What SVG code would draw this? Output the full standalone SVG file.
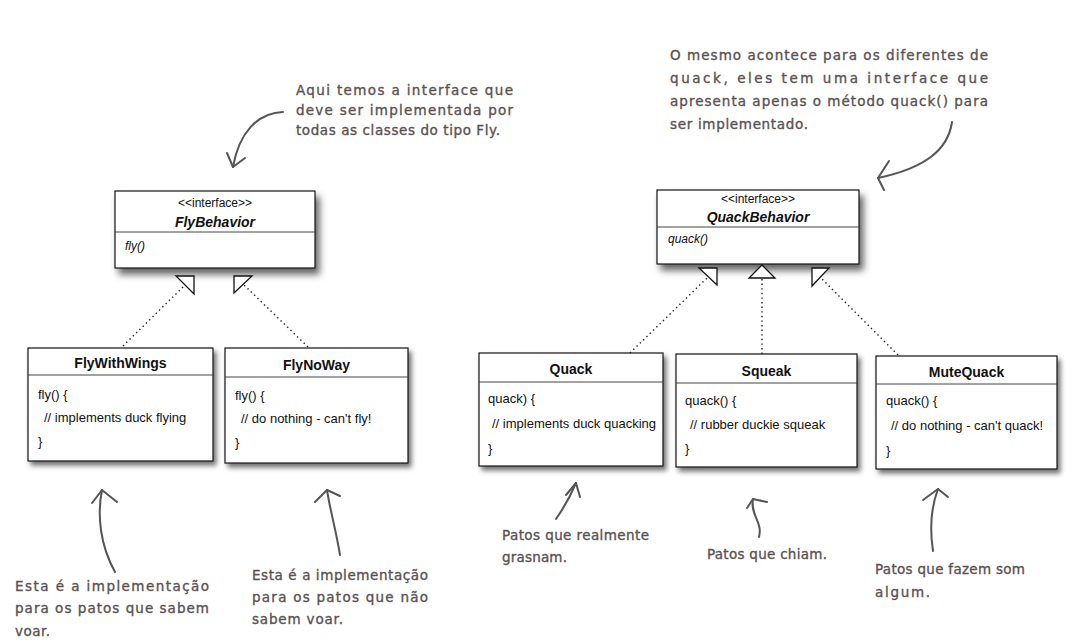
<svg xmlns="http://www.w3.org/2000/svg" width="1066" height="644" viewBox="0 0 1066 644">
  <defs>
    <filter id="shadow" x="-10%" y="-10%" width="130%" height="140%">
      <feDropShadow dx="3" dy="4" stdDeviation="2.5" flood-color="#000" flood-opacity="0.55"/>
    </filter>
    <filter id="shadowBig" x="-10%" y="-10%" width="130%" height="150%">
      <feDropShadow dx="4" dy="6" stdDeviation="3.5" flood-color="#000" flood-opacity="0.6"/>
    </filter>
  </defs>
  <style>
    .box { fill: #fff; stroke: #111; stroke-width: 1.2; }
    .sep { stroke: #444; stroke-width: 1; }
    .uml { font-family: "Liberation Sans", Arial, sans-serif; fill: #111; }
    .title { font-size: 14px; font-weight: bold; text-anchor: middle; }
    .body { font-size: 13px; }
    .stereo { font-size: 12px; text-anchor: middle; }
    .iname { font-size: 14px; font-weight: bold; font-style: italic; text-anchor: middle; }
    .op { font-size: 12px; font-style: italic; }
    .dot { fill: none; stroke: #222; stroke-width: 1.4; stroke-dasharray: 1.4 3.2; }
    .tri { fill: #fff; stroke: #111; stroke-width: 1.3; stroke-linejoin: miter; }
    .note { font-family: "DejaVu Sans", "Liberation Sans", sans-serif; font-size: 13.5px; fill: #5a5252; stroke: #5a5252; stroke-width: 0.35; }
    .hand { fill: none; stroke: #555; stroke-width: 2; stroke-linecap: round; stroke-linejoin: round; }
  </style>
  <rect width="1066" height="644" fill="#fff"/>

  <g id="FlyBehavior">
    <rect class="box" x="115" y="191" width="200" height="77" filter="url(#shadowBig)"/>
    <line class="sep" x1="115" y1="232" x2="315" y2="232"/>
    <text class="uml stereo" x="215" y="207">&lt;&lt;interface&gt;&gt;</text>
    <text class="uml iname" x="215" y="227">FlyBehavior</text>
    <text class="uml op" x="125" y="250">fly()</text>
  </g>

  <g id="QuackBehavior">
    <rect class="box" x="657" y="190" width="202" height="74" filter="url(#shadowBig)"/>
    <line class="sep" x1="657" y1="227" x2="859" y2="227"/>
    <text class="uml stereo" x="758" y="203">&lt;&lt;interface&gt;&gt;</text>
    <text class="uml iname" x="758" y="222">QuackBehavior</text>
    <text class="uml op" x="668" y="243">quack()</text>
  </g>

  <g id="FlyWithWings">
    <rect class="box" x="28" y="348" width="185" height="113" filter="url(#shadow)"/>
    <line class="sep" x1="28" y1="375" x2="213" y2="375"/>
    <text class="uml title" x="120.5" y="368">FlyWithWings</text>
    <text class="uml body" x="38" y="399">fly() {</text>
    <text class="uml body" x="44" y="422">// implements duck flying</text>
    <text class="uml body" x="38" y="446">}</text>
  </g>

  <g id="FlyNoWay">
    <rect class="box" x="225" y="348" width="183" height="115" filter="url(#shadow)"/>
    <line class="sep" x1="225" y1="377" x2="408" y2="377"/>
    <text class="uml title" x="316.5" y="370">FlyNoWay</text>
    <text class="uml body" x="235" y="400">fly() {</text>
    <text class="uml body" x="241" y="423">// do nothing - can't fly!</text>
    <text class="uml body" x="235" y="447">}</text>
  </g>

  <g id="Quack">
    <rect class="box" x="479" y="353" width="184" height="113" filter="url(#shadow)"/>
    <line class="sep" x1="479" y1="382" x2="663" y2="382"/>
    <text class="uml title" x="571" y="374">Quack</text>
    <text class="uml body" x="488" y="403">quack) {</text>
    <text class="uml body" x="492" y="428">// implements duck quacking</text>
    <text class="uml body" x="488" y="453">}</text>
  </g>

  <g id="Squeak">
    <rect class="box" x="676" y="354" width="181" height="113" filter="url(#shadow)"/>
    <line class="sep" x1="676" y1="383" x2="857" y2="383"/>
    <text class="uml title" x="766.5" y="376">Squeak</text>
    <text class="uml body" x="685" y="405">quack() {</text>
    <text class="uml body" x="690" y="429">// rubber duckie squeak</text>
    <text class="uml body" x="685" y="453">}</text>
  </g>

  <g id="MuteQuack">
    <rect class="box" x="876" y="356" width="181" height="113" filter="url(#shadow)"/>
    <line class="sep" x1="876" y1="384" x2="1057" y2="384"/>
    <text class="uml title" x="966.5" y="377">MuteQuack</text>
    <text class="uml body" x="886" y="405">quack() {</text>
    <text class="uml body" x="891" y="430">// do nothing - can't quack!</text>
    <text class="uml body" x="886" y="455">}</text>
  </g>

  <g id="connectors">
    <line class="dot" x1="123" y1="346" x2="185" y2="285"/>
    <polygon class="tri" points="176,276 194,276 194,294"/>
    <line class="dot" x1="308" y1="347" x2="243" y2="284"/>
    <polygon class="tri" points="234,276 252,276 234,293"/>
    <line class="dot" x1="630" y1="353" x2="708" y2="277"/>
    <polygon class="tri" points="699,268 717,268 717,285"/>
    <line class="dot" x1="762" y1="354" x2="762" y2="278"/>
    <polygon class="tri" points="762,265 775,278 749,278"/>
    <line class="dot" x1="898" y1="355" x2="820" y2="277"/>
    <polygon class="tri" points="812,268 829,268 812,286"/>
  </g>

  <g id="annotations">
    <text class="note" x="296" y="95" textLength="217" lengthAdjust="spacing">Aqui temos a interface que</text>
    <text class="note" x="296" y="115" textLength="217" lengthAdjust="spacing">deve ser implementada por</text>
    <text class="note" x="296" y="135" textLength="204" lengthAdjust="spacing">todas as classes do tipo Fly.</text>
    <path class="hand" d="M283,112 C257,113 239,133 233,167"/>
    <path class="hand" d="M227,153 L233,167 L245,158"/>

    <text class="note" x="670" y="60" textLength="318" lengthAdjust="spacing">O mesmo acontece para os diferentes de</text>
    <text class="note" x="670" y="83" textLength="318" lengthAdjust="spacing">quack, eles tem uma interface que</text>
    <text class="note" x="670" y="106" textLength="318" lengthAdjust="spacing">apresenta apenas o método quack() para</text>
    <text class="note" x="670" y="129" textLength="138" lengthAdjust="spacing">ser implementado.</text>
    <path class="hand" d="M952,122 C948,150 925,168 878,178"/>
    <path class="hand" d="M889,161 L878,178 L884,190"/>

    <text class="note" x="15" y="591" textLength="194" lengthAdjust="spacing">Esta é a implementação</text>
    <text class="note" x="15" y="613" textLength="194" lengthAdjust="spacing">para os patos que sabem</text>
    <text class="note" x="15" y="636" textLength="35" lengthAdjust="spacing">voar.</text>
    <path class="hand" d="M115,572 C100,545 97,515 102,490"/>
    <path class="hand" d="M92,503 L102,490 L117,502"/>

    <text class="note" x="252" y="580" textLength="176" lengthAdjust="spacing">Esta é a implementação</text>
    <text class="note" x="252" y="602" textLength="176" lengthAdjust="spacing">para os patos que não</text>
    <text class="note" x="252" y="624" textLength="91" lengthAdjust="spacing">sabem voar.</text>
    <path class="hand" d="M340,555 C336,530 330,510 327,490"/>
    <path class="hand" d="M315,502 L327,490 L340,496"/>

    <text class="note" x="502" y="540" textLength="147" lengthAdjust="spacing">Patos que realmente</text>
    <text class="note" x="502" y="562" textLength="65" lengthAdjust="spacing">grasnam.</text>
    <path class="hand" d="M556,519 C565,506 571,495 576,483"/>
    <path class="hand" d="M566,495 L576,483 L580,497"/>

    <text class="note" x="707" y="559" textLength="120" lengthAdjust="spacing">Patos que chiam.</text>
    <path class="hand" d="M759,537 C763,522 750,515 753,499"/>
    <path class="hand" d="M747,508 L753,499 L767,502"/>

    <text class="note" x="875" y="574" textLength="150" lengthAdjust="spacing">Patos que fazem som</text>
    <text class="note" x="875" y="597" textLength="55" lengthAdjust="spacing">algum.</text>
    <path class="hand" d="M933,551 C929,525 932,505 938,489"/>
    <path class="hand" d="M923,500 L938,489 L948,497"/>
  </g>
</svg>
